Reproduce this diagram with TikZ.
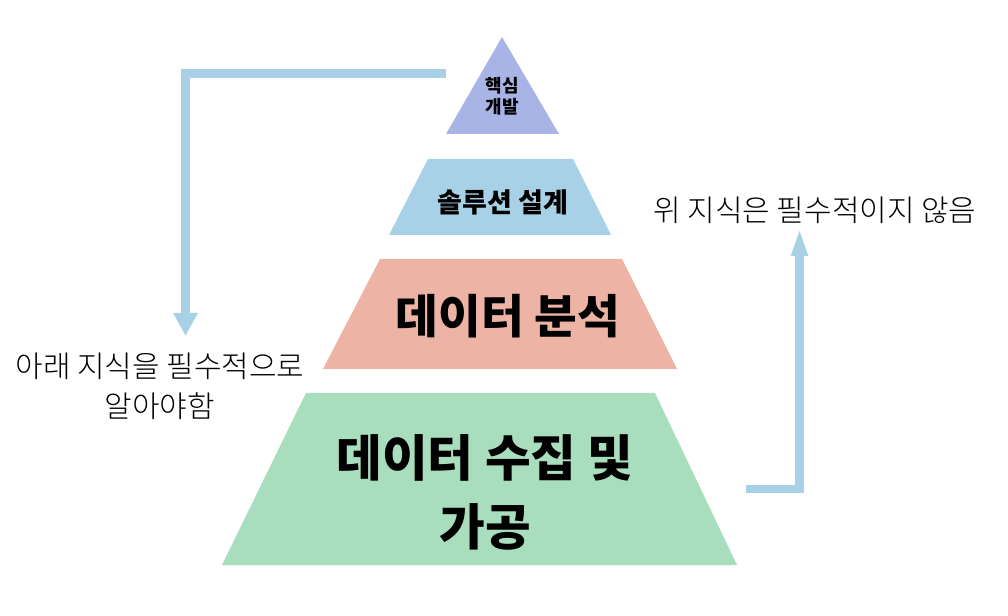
\documentclass[tikz,border=0pt]{standalone}
\usepackage{fontspec}
\usetikzlibrary{arrows.meta}
\newfontfamily\krblack{Noto Sans CJK KR Black}
\newfontfamily\krlight{Noto Sans CJK KR Light}
\definecolor{coreblue}{RGB}{168,180,230}
\definecolor{skyblue}{RGB}{168,209,231}
\definecolor{salmon}{RGB}{237,180,166}
\definecolor{mint}{RGB}{168,221,190}
\tikzset{
  levellabel/.style={font=\krblack,text=black,align=center,inner sep=0pt},
  notelabel/.style={font=\krlight\fontsize{21.3pt}{28.5pt}\selectfont,text=black,align=center,inner sep=0pt},
  flowarrow/.style={skyblue,line width=6.4pt},
}
\begin{document}
\begin{tikzpicture}[x=0.025cm,y=-0.025cm]
  \useasboundingbox (0,0) rectangle (1008,616);
  % pyramid, top to bottom
  \fill[coreblue] (502,37) -- (559,134) -- (446,134) -- cycle;
  \fill[skyblue] (428,159) -- (573,159) -- (611,235) -- (389,235) -- cycle;
  \fill[salmon] (380,259) -- (622,259) -- (677,369) -- (323,369) -- cycle;
  \fill[mint] (306,393) -- (655,393) -- (737,565) -- (222,565) -- cycle;
  \node[levellabel,font=\krblack\fontsize{12.8pt}{15pt}\selectfont] (core) at (502,96) {핵심\\개발};
  \node[levellabel,font=\krblack\fontsize{19.2pt}{22pt}\selectfont] (design) at (503,202) {솔루션 설계};
  \node[levellabel,font=\krblack\fontsize{33pt}{38pt}\selectfont] (analysis) at (508,316) {데이터 분석};
  \node[levellabel,font=\krblack\fontsize{35.3pt}{49pt}\selectfont] (collect) at (485,492) {데이터 수집 및\\가공};
  % side notes
  \node[notelabel] (mustknow) at (160,386) {아래 지식을 필수적으로\\알아야함};
  \node[notelabel] (optional) at (815,210) {위 지식은 필수적이지 않음};
  % arrows
  \coordinate (coreout) at (446,73.5);
  \coordinate (musttip) at (185.5,336);
  \coordinate (collectout) at (746,489);
  \coordinate (optionaltip) at (799.5,228);
  \draw[flowarrow,-{Triangle[length=16.4pt,width=16.4pt]}] (coreout) -| (musttip);
  \draw[flowarrow,-{Triangle[length=19.9pt,width=10.7pt]}] (collectout) -| (optionaltip);
\end{tikzpicture}
\end{document}
